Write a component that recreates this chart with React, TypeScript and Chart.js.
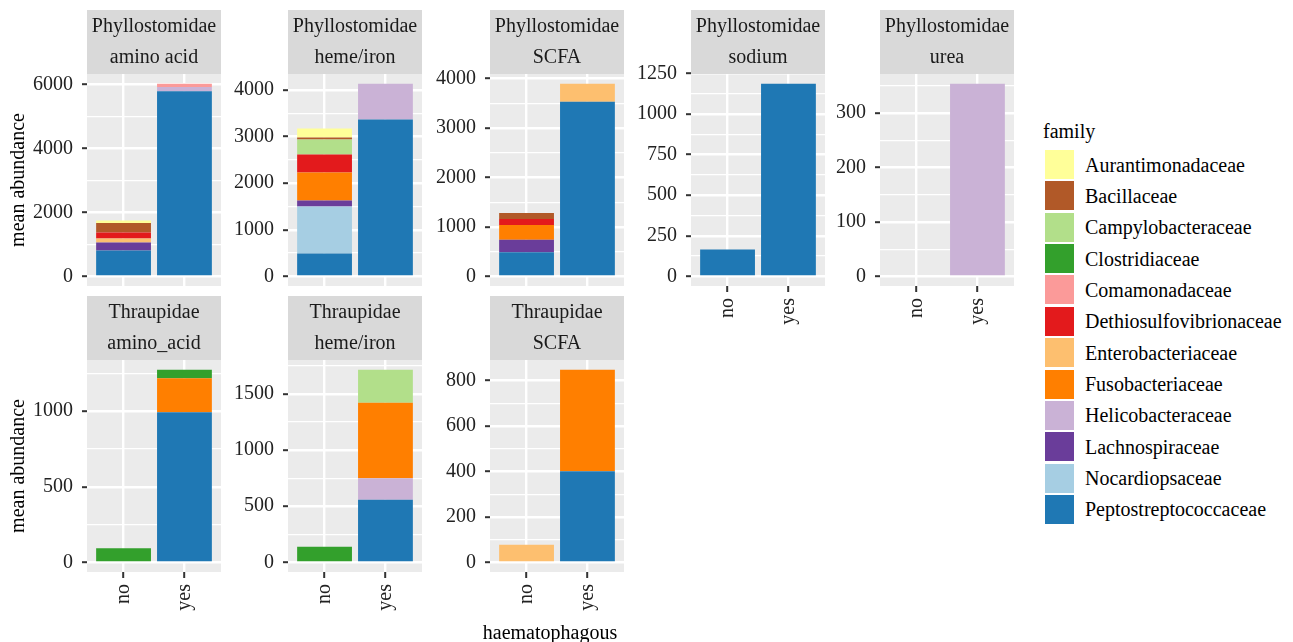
import React, { useEffect, useRef } from 'react';
import { Chart, registerables } from 'chart.js';

Chart.register(...registerables);

// ---------- data ----------
const families = [
  'Aurantimonadaceae',
  'Bacillaceae',
  'Campylobacteraceae',
  'Clostridiaceae',
  'Comamonadaceae',
  'Dethiosulfovibrionaceae',
  'Enterobacteriaceae',
  'Fusobacteriaceae',
  'Helicobacteraceae',
  'Lachnospiraceae',
  'Nocardiopsaceae',
  'Peptostreptococcaceae',
];
const familyColors = [
  '#FFFF99',
  '#B15928',
  '#B2DF8A',
  '#33A02C',
  '#FB9A99',
  '#E31A1C',
  '#FDBF6F',
  '#FF7F00',
  '#CAB2D6',
  '#6A3D9A',
  '#A6CEE3',
  '#1F78B4',
];
const categories = ['no', 'yes'];

type Row = [string, number, number]; // family, no, yes

const phylloAminoAcid: Row[] = [
  ['Peptostreptococcaceae', 813, 5792],
  ['Lachnospiraceae', 250, 0],
  ['Helicobacteraceae', 0, 135],
  ['Enterobacteriaceae', 125, 0],
  ['Dethiosulfovibrionaceae', 187, 0],
  ['Comamonadaceae', 0, 104],
  ['Bacillaceae', 292, 0],
  ['Aurantimonadaceae', 83, 0],
];
const phylloHemeIron: Row[] = [
  ['Peptostreptococcaceae', 493, 3364],
  ['Nocardiopsaceae', 1007, 0],
  ['Lachnospiraceae', 129, 0],
  ['Helicobacteraceae', 0, 772],
  ['Fusobacteriaceae', 600, 0],
  ['Dethiosulfovibrionaceae', 385, 0],
  ['Campylobacteraceae', 322, 0],
  ['Bacillaceae', 43, 0],
  ['Aurantimonadaceae', 192, 0],
];
const phylloSCFA: Row[] = [
  ['Peptostreptococcaceae', 487, 3535],
  ['Lachnospiraceae', 253, 0],
  ['Fusobacteriaceae', 300, 0],
  ['Enterobacteriaceae', 0, 365],
  ['Dethiosulfovibrionaceae', 120, 0],
  ['Bacillaceae', 120, 0],
];
const phylloSodium: Row[] = [['Peptostreptococcaceae', 166, 1188]];
const phylloUrea: Row[] = [['Helicobacteraceae', 0, 354]];
const thrauAminoAcid: Row[] = [
  ['Peptostreptococcaceae', 0, 993],
  ['Fusobacteriaceae', 0, 225],
  ['Clostridiaceae', 93, 57],
];
const thrauHemeIron: Row[] = [
  ['Peptostreptococcaceae', 0, 558],
  ['Helicobacteraceae', 0, 191],
  ['Fusobacteriaceae', 0, 674],
  ['Clostridiaceae', 140, 0],
  ['Campylobacteraceae', 0, 294],
];
const thrauSCFA: Row[] = [
  ['Peptostreptococcaceae', 0, 401],
  ['Fusobacteriaceae', 0, 447],
  ['Enterobacteriaceae', 77, 0],
];

const ticksPhylloAminoAcid = [0, 2000, 4000, 6000];
const ticksPhylloHemeIron = [0, 1000, 2000, 3000, 4000];
const ticksPhylloSCFA = [0, 1000, 2000, 3000, 4000];
const ticksPhylloSodium = [0, 250, 500, 750, 1000, 1250];
const ticksPhylloUrea = [0, 100, 200, 300];
const ticksThrauAminoAcid = [0, 500, 1000];
const ticksThrauHemeIron = [0, 500, 1000, 1500];
const ticksThrauSCFA = [0, 200, 400, 600, 800];

const stripLabels: [string, string][] = [
  ['Phyllostomidae', 'amino acid'],
  ['Phyllostomidae', 'heme/iron'],
  ['Phyllostomidae', 'SCFA'],
  ['Phyllostomidae', 'sodium'],
  ['Phyllostomidae', 'urea'],
  ['Thraupidae', 'amino_acid'],
  ['Thraupidae', 'heme/iron'],
  ['Thraupidae', 'SCFA'],
];
const panelRows = [
  phylloAminoAcid, phylloHemeIron, phylloSCFA, phylloSodium, phylloUrea,
  thrauAminoAcid, thrauHemeIron, thrauSCFA,
];
const panelTicks = [
  ticksPhylloAminoAcid, ticksPhylloHemeIron, ticksPhylloSCFA, ticksPhylloSodium, ticksPhylloUrea,
  ticksThrauAminoAcid, ticksThrauHemeIron, ticksThrauSCFA,
];

const yTitle = 'mean abundance';
const xTitle = 'haematophagous';
const legendTitle = 'family';

// ---------- layout / style ----------
const FONT = "'Liberation Serif', 'Times New Roman', Times, serif";
const FS = 20;
const colLeft = [87, 288, 490, 691, 880];
const rowTop = [10, 296];
const panelGrid = [
  [0, 0, false], [0, 1, false], [0, 2, false], [0, 3, true], [0, 4, true],
  [1, 0, true], [1, 1, true], [1, 2, true],
] as [number, number, boolean][];
const PANEL_W = 134;
const PANEL_H = 212;
const STRIP_H = 64;
const YAXIS_W = 80;
const RIGHT_PAD = 10;
const XAXIS_H = 50;

function Panel(props: { idx: number }) {
  const { idx } = props;
  const ref = useRef<HTMLCanvasElement>(null);
  const [r, c, showX] = panelGrid[idx];
  const width = YAXIS_W + PANEL_W + RIGHT_PAD;
  const height = STRIP_H + PANEL_H + (showX ? XAXIS_H : 4);

  useEffect(() => {
    const rows = panelRows[idx];
    const majors = panelTicks[idx];
    const strip = stripLabels[idx];
    const ordered = [...families].reverse().filter((f) => rows.some((row) => row[0] === f));
    const datasets = ordered.map((f) => {
      const row = rows.find((rr) => rr[0] === f)!;
      return {
        label: f,
        data: categories.map((_, i) => ({ x: i + 1, y: row[i + 1] as number })),
        backgroundColor: familyColors[families.indexOf(f)],
        borderWidth: 0,
        barPercentage: 0.9,
        categoryPercentage: 1,
      };
    });
    const totals = categories.map((_, i) => rows.reduce((s, row) => s + (row[i + 1] as number), 0));
    const top = Math.max(...totals);
    const yMin = -0.05 * top;
    const yMax = 1.05 * top;
    const step = majors[1] - majors[0];
    const minors: number[] = [];
    if (majors[0] - step / 2 >= yMin) minors.push(majors[0] - step / 2);
    majors.forEach((v) => {
      if (v + step / 2 <= yMax) minors.push(v + step / 2);
    });
    const allTicks = [...majors, ...minors].sort((a, b) => a - b);
    const majorSet = new Set(majors);

    const decor = {
      id: 'panelDecor',
      beforeDraw(chart: any) {
        const { ctx, chartArea: a } = chart;
        ctx.save();
        ctx.fillStyle = '#EBEBEB';
        ctx.fillRect(a.left, a.top, a.right - a.left, a.bottom - a.top);
        ctx.restore();
      },
      afterDraw(chart: any) {
        const { ctx, chartArea: a } = chart;
        ctx.save();
        ctx.fillStyle = '#D9D9D9';
        ctx.fillRect(a.left, a.top - STRIP_H, a.right - a.left, STRIP_H);
        ctx.fillStyle = '#1A1A1A';
        ctx.font = `${FS}px ${FONT}`;
        ctx.textAlign = 'center';
        ctx.textBaseline = 'alphabetic';
        const cx = (a.left + a.right) / 2;
        ctx.fillText(strip[0], cx, a.top - STRIP_H + 21.7);
        ctx.fillText(strip[1], cx, a.top - STRIP_H + 53.3);
        ctx.restore();
      },
    };

    const chart = new Chart(ref.current!, {
      type: 'bar',
      data: { datasets: datasets as any },
      options: {
        responsive: false,
        animation: false,
        devicePixelRatio: 1,
        layout: { padding: { top: STRIP_H, right: RIGHT_PAD, left: 0, bottom: 0 } },
        plugins: { legend: { display: false }, tooltip: { enabled: false } },
        scales: {
          x: {
            type: 'linear',
            min: 0.4,
            max: 2.6,
            stacked: true,
            offset: false,
            afterBuildTicks: (s: any) => {
              s.ticks = categories.map((_, i) => ({ value: i + 1 }));
            },
            afterFit: (s: any) => {
              s.height = showX ? XAXIS_H : 4;
              s.paddingLeft = 0;
              s.paddingRight = 0;
            },
            ticks: {
              display: showX,
              autoSkip: false,
              minRotation: 90,
              maxRotation: 90,
              padding: 6,
              color: '#222222',
              font: { family: FONT, size: FS },
              callback: (v: any) => categories[Math.round(Number(v)) - 1] ?? '',
            },
            grid: {
              offset: false,
              color: '#FFFFFF',
              lineWidth: 2.4,
              drawTicks: showX,
              tickLength: 6,
              tickWidth: 2,
              tickColor: '#333333',
            },
            border: { display: false },
          },
          y: {
            type: 'linear',
            stacked: true,
            min: yMin,
            max: yMax,
            afterBuildTicks: (s: any) => {
              s.ticks = allTicks.map((v) => ({ value: v }));
            },
            afterFit: (s: any) => {
              s.width = YAXIS_W;
              s.paddingTop = 0;
              s.paddingBottom = 0;
            },
            ticks: {
              autoSkip: false,
              padding: 9,
              color: '#222222',
              font: { family: FONT, size: FS },
              callback: (v: any) => (majorSet.has(Number(v)) ? String(v) : ''),
            },
            grid: {
              offset: false,
              color: '#FFFFFF',
              lineWidth: (ctx: any) => (majorSet.has(ctx.tick?.value) ? 2.4 : 1.2),
              tickLength: 5,
              tickWidth: 2,
              tickColor: (ctx: any) => (majorSet.has(ctx.tick?.value) ? '#333333' : 'rgba(0,0,0,0)'),
            },
            border: { display: false },
          },
        },
      } as any,
      plugins: [decor],
    });
    return () => chart.destroy();
  }, [idx]);

  return (
    <canvas
      ref={ref}
      width={width}
      height={height}
      style={{
        position: 'absolute',
        left: colLeft[c] - YAXIS_W,
        top: rowTop[r],
        width,
        height,
        display: 'block',
      }}
    />
  );
}

export default function App() {
  const textStyle: React.CSSProperties = {
    position: 'absolute',
    fontFamily: FONT,
    fontSize: FS,
    lineHeight: '20px',
    color: '#000',
    whiteSpace: 'nowrap',
  };
  return (
    <div
      style={{
        position: 'fixed',
        left: 0,
        top: 0,
        width: 1293,
        height: 642,
        background: '#FFFFFF',
        overflow: 'hidden',
      }}
    >
      {panelRows.map((_, i) => (
        <Panel key={i} idx={i} />
      ))}
      {[180, 466].map((cy, i) => (
        <div
          key={i}
          style={{
            ...textStyle,
            left: 17,
            top: cy,
            transform: 'translate(-50%, -50%) rotate(-90deg)',
          }}
        >
          {yTitle}
        </div>
      ))}
      <div style={{ ...textStyle, left: 550, top: 622, transform: 'translateX(-50%)' }}>{xTitle}</div>
      <div style={{ ...textStyle, left: 1043, top: 121 }}>{legendTitle}</div>
      {families.map((f, i) => (
        <React.Fragment key={f}>
          <div
            style={{
              position: 'absolute',
              left: 1045,
              top: 150 + i * 31.36,
              width: 29,
              height: 29,
              background: familyColors[i],
            }}
          />
          <div style={{ ...textStyle, left: 1085, top: 150 + i * 31.36 + 4.5 }}>{f}</div>
        </React.Fragment>
      ))}
    </div>
  );
}
